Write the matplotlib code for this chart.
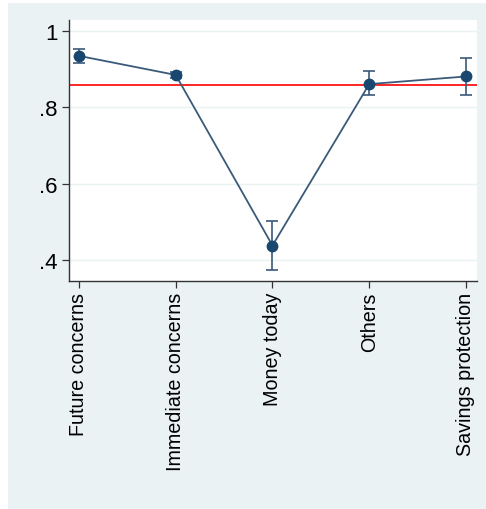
import matplotlib
matplotlib.use("Agg")
import matplotlib.pyplot as plt

plt.rcParams['font.family'] = ['Liberation Sans', 'DejaVu Sans']

categories = ['Future concerns', 'Immediate concerns', 'Money today', 'Others', 'Savings protection']
means = [0.935, 0.885, 0.438, 0.861, 0.881]
ci_low = [0.917, 0.877, 0.375, 0.833, 0.833]
ci_high = [0.952, 0.893, 0.503, 0.895, 0.929]
ref_value = 0.859
yticks = [0.4, 0.6, 0.8, 1.0]
yticklabels = ['.4', '.6', '.8', '1']

navy = '#1a476f'
bg = '#eaf2f3'

fig = plt.figure(figsize=(4.86, 5.10), dpi=100)
fig.patch.set_facecolor('white')
# outer stata-like panel
panel = plt.Rectangle((8 / 486, 0.0), 1 - 8 / 486, 1 - 4 / 510,
                      transform=fig.transFigure, facecolor=bg, edgecolor='none', zorder=-10)
fig.patches.append(panel)

ax = fig.add_axes([69 / 486, 1 - 282 / 510, (477 - 69) / 486, (282 - 21) / 510])
ax.set_facecolor('white')

x = list(range(1, len(categories) + 1))
yerr = [[m - lo for m, lo in zip(means, ci_low)],
        [hi - m for m, hi in zip(means, ci_high)]]

ax.axhline(ref_value, color='red', lw=1.2, zorder=2)
ax.plot(x, means, color='#3b5a7a', lw=1.3, zorder=3)
ax.errorbar(x, means, yerr=yerr, fmt='o', color=navy, ms=7.5, ecolor='#3b5a7a',
            elinewidth=1.2, capsize=4, capthick=1.2, zorder=4)

ax.set_xlim(0.897, 5.114)
ax.set_ylim(0.345, 1.029)
ax.set_yticks(yticks)
ax.set_yticklabels(yticklabels, fontsize=16)
ax.set_xticks(x)
ax.set_xticklabels(categories, rotation=90, fontsize=14.2)
ax.grid(axis='y', color=bg, lw=1.0)
ax.set_axisbelow(True)

for side in ['top', 'right']:
    ax.spines[side].set_visible(False)
for side in ['left', 'bottom']:
    ax.spines[side].set_color('#333333')
    ax.spines[side].set_linewidth(1.0)
ax.tick_params(axis='both', length=5, width=0.9, color='#333333', pad=3)

fig.savefig('out.png', dpi=100)
